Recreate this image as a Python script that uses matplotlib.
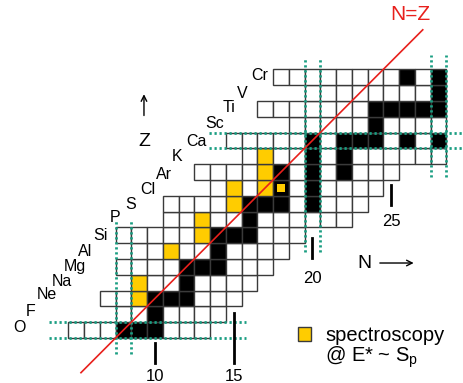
import matplotlib
matplotlib.use('Agg')
import matplotlib.pyplot as plt
from matplotlib.patches import Rectangle

plt.rcParams['font.family'] = ['Liberation Sans', 'DejaVu Sans']
plt.rcParams['mathtext.fontset'] = 'custom'
plt.rcParams['mathtext.rm'] = 'Liberation Sans'
plt.rcParams['mathtext.it'] = 'Liberation Sans'

# ---------------- data ----------------
elements = ['O', 'F', 'Ne', 'Na', 'Mg', 'Al', 'Si', 'P', 'S', 'Cl', 'Ar', 'K',
            'Ca', 'Sc', 'Ti', 'V', 'Cr']
Z_values = [8, 9, 10, 11, 12, 13, 14, 15, 16, 17, 18, 19, 20, 21, 22, 23, 24]
N_first = [5, 8, 7, 9, 8, 9, 8, 11, 11, 14, 13, 16, 15, 19, 17, 20, 18]
N_last = [13, 14, 15, 16, 17, 18, 19, 22, 23, 24, 25, 28, 28, 28, 28, 28, 28]
stable_N = [[8, 9, 10], [10], [10, 11, 12], [12], [12, 13, 14], [14],
            [14, 15, 16], [16], [16, 17, 18, 20], [18, 20], [18, 20, 22],
            [20, 22], [20, 22, 23, 24, 26, 28], [24], [24, 25, 26, 27, 28],
            [28], [26, 28]]
spec_N = [9, 9, 11, 13, 13, 15, 15, 17, 17, 17]
spec_Z = [10, 11, 13, 14, 15, 16, 17, 17, 18, 19]
spec_partial_N = [18]
spec_partial_Z = [17]
magic = [8, 20, 28]
tick_N = [10, 15, 20, 25]

# ---------------- figure ----------------
fig = plt.figure(figsize=(4.63, 3.83), dpi=100)
ax = fig.add_axes([0, 0, 1, 1])
ax.set_xlim(0.159, 29.556)
ax.set_ylim(4.646, 28.886)
ax.axis('off')

GOLD = '#FFCC00'
EDGE = '#3a3a3a'
TEAL = '#1a9e82'

spec_set = set(zip(spec_N, spec_Z))
for Z, n0, n1, st in zip(Z_values, N_first, N_last, stable_N):
    for N in range(n0, n1 + 1):
        if N in st:
            fc = 'black'
        elif (N, Z) in spec_set:
            fc = GOLD
        else:
            fc = 'white'
        ax.add_patch(Rectangle((N - 0.5, Z - 0.5), 1, 1, facecolor=fc,
                               edgecolor=EDGE, lw=1.0, zorder=2))

for N, Z in zip(spec_partial_N, spec_partial_Z):
    ax.add_patch(Rectangle((N - 0.27, Z - 0.27), 0.54, 0.54, facecolor=GOLD,
                           edgecolor='none', zorder=3))

# magic number dotted lines
dot = dict(color=TEAL, lw=2.0, ls=(0, (0.8, 1.0)), zorder=4)
v_ranges = {8: (6.45, 14.95), 20: (12.95, 25.3), 28: (17.7, 25.4)}
h_ranges = {8: (3.3, 15.8), 20: (13.4, 29.6)}
for m in magic:
    if m in v_ranges:
        for x in (m - 0.5, m + 0.5):
            ax.plot([x, x], v_ranges[m], **dot)
    if m in h_ranges:
        for y in (m - 0.5, m + 0.5):
            ax.plot(h_ranges[m], [y, y], **dot)

# N = Z line
ax.plot([5.3, 27.0], [5.3, 27.0], color='#e8201c', lw=1.2, zorder=5)
ax.text(26.2, 27.95, 'N=Z', color='#e8201c', fontsize=15, ha='center',
        va='center')

# element labels
lab_pos = [(1.37, 8.13), (2.13, 9.2), (3.14, 10.22), (4.10, 11.10),
           (4.92, 12.05), (5.56, 12.94), (6.51, 14.01), (7.46, 15.09),
           (8.48, 15.97), (9.56, 16.92), (10.57, 17.87), (11.40, 19.01),
           (12.60, 19.96), (13.81, 21.04), (14.70, 22.11), (15.52, 23.0),
           (16.67, 24.08)]
for el, (x, y) in zip(elements, lab_pos):
    ax.text(x, y, el, fontsize=11.5, ha='center', va='center', zorder=6)

# N ticks
tick_spans = {10: ((7.18, 5.91), 5.05), 15: ((9.08, 5.91), 5.05),
              20: ((13.82, 12.56), 11.29), 25: ((17.18, 15.91), 14.84)}
for t in tick_N:
    (y0, y1), ly = tick_spans[t]
    ax.plot([t, t], [y0, y1], color='black', lw=2.0, zorder=6)
    ax.text(t, ly, str(t), fontsize=12, ha='center', va='center')

# axis arrows
ax.annotate('', xy=(9.3, 23.1), xytext=(9.3, 21.4),
            arrowprops=dict(arrowstyle='->', lw=1.0, color='black'))
ax.text(9.3, 19.9, 'Z', fontsize=14, ha='center', va='center')
ax.text(23.3, 12.24, 'N', fontsize=14, ha='center', va='center')
ax.annotate('', xy=(26.6, 12.24), xytext=(24.1, 12.24),
            arrowprops=dict(arrowstyle='->', lw=1.0, color='black'))

# legend
ax.add_patch(Rectangle((19.07, 7.33), 0.83, 0.83, facecolor=GOLD,
                       edgecolor=EDGE, lw=1.0))
ax.text(20.79, 7.68, 'spectroscopy', fontsize=14.5, ha='left', va='center')
ax.text(20.79, 6.29, r'@ E* ~ S$_\mathrm{p}$', fontsize=14.5, ha='left',
        va='center')

fig.savefig('out.png', dpi=100)
